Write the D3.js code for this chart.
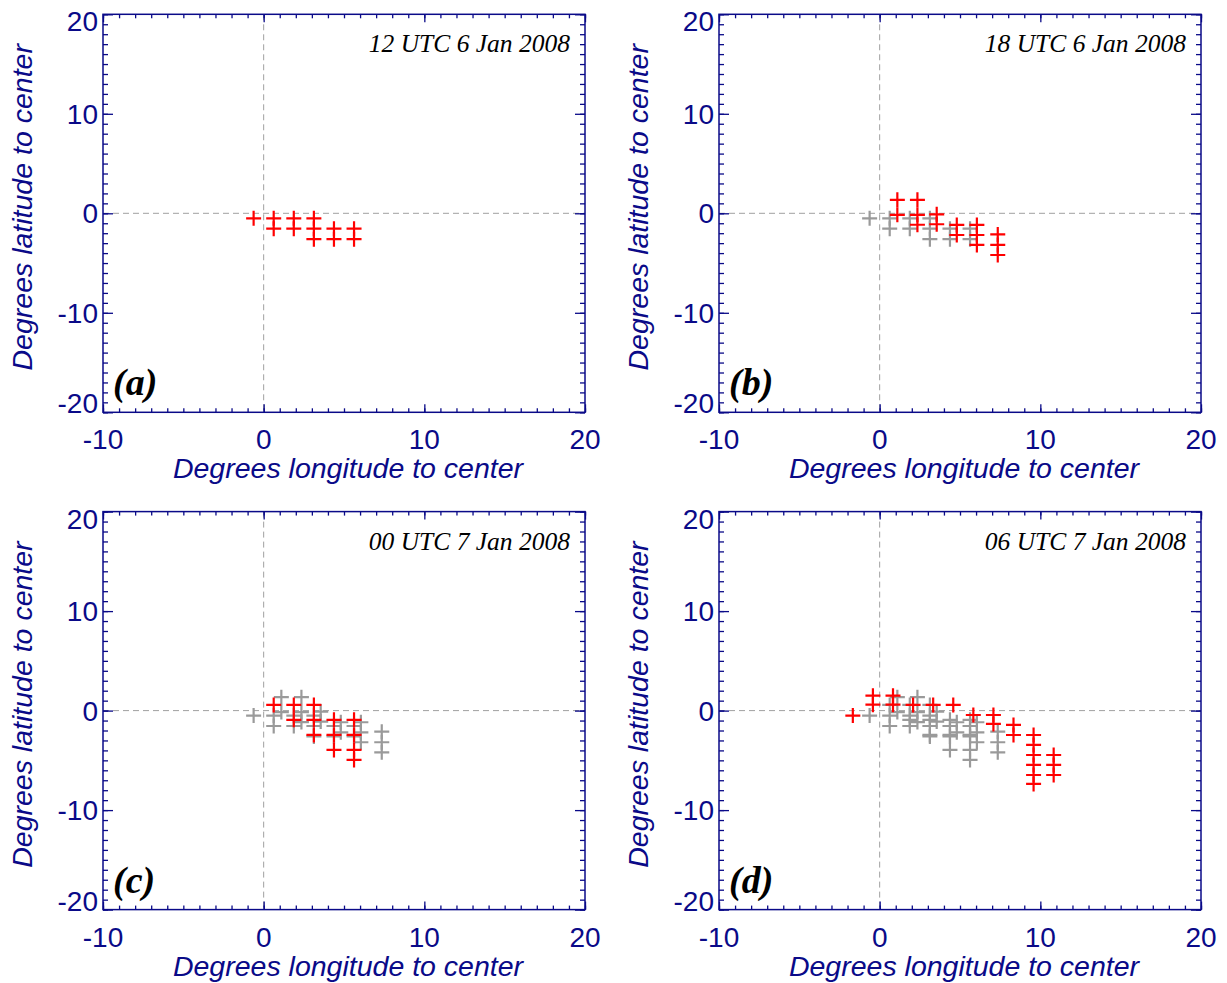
<!DOCTYPE html>
<html>
<head>
<meta charset="utf-8">
<script src="https://cdn.jsdelivr.net/npm/d3@7"></script>
<style>
  html, body { margin: 0; padding: 0; background: #fff; }
  svg { display: block; }
</style>
</head>
<body>
<svg id="chart" width="1227" height="983"></svg>
<script>
// ---------------- DATA ----------------
const panelTitles  = ["12 UTC 6 Jan 2008", "18 UTC 6 Jan 2008", "00 UTC 7 Jan 2008", "06 UTC 7 Jan 2008"];
const panelLetters = ["(a)", "(b)", "(c)", "(d)"];
const xTicks = [-10, 0, 10, 20];
const yTicks = [-20, -10, 0, 10, 20];
const xTitle = "Degrees longitude to center";
const yTitle = "Degrees latitude to center";

// points (degrees relative to center) for each time step
const lon12z = [-0.625, 0.625, 0.625, 1.875, 1.875, 3.125, 3.125, 3.125, 4.375, 4.375, 5.625, 5.625];
const lat12z = [-0.5, -0.5, -1.55, -0.5, -1.55, -0.5, -1.55, -2.6, -1.55, -2.6, -1.55, -2.6];

const lon18z = [1.1, 1.1, 2.35, 2.35, 2.35, 3.55, 3.55, 4.8, 4.8, 6.05, 6.05, 6.05, 7.35, 7.35, 7.35];
const lat18z = [1.35, -0.15, 1.35, -0.15, -1.15, -0.1, -1.1, -1.17, -2.18, -1.17, -2.18, -3.18, -2.12, -3.18, -4.19];

const lon00z = [0.625, 1.875, 1.875, 3.125, 3.125, 3.125, 4.375, 4.375, 4.375, 5.625, 5.625, 5.625, 5.625];
const lat00z = [0.57, 0.57, -0.93, 0.57, -0.93, -2.44, -0.93, -2.44, -3.95, -0.93, -2.44, -3.95, -4.96];

const lon06z = [-1.67, -0.42, -0.42, 0.83, 0.83, 2.08, 3.33, 4.58, 5.83, 7.08, 7.08, 8.33, 8.33,
                9.58, 9.58, 9.58, 9.58, 9.58, 9.58, 10.83, 10.83, 10.83];
const lat06z = [-0.5, 1.5, 0.6, 1.5, 0.6, 0.57, 0.57, 0.57, -0.44, -0.44, -1.34, -1.44, -2.45,
                -2.45, -3.45, -4.46, -5.46, -6.47, -7.37, -4.46, -5.46, -6.47];

const stepLons = [lon12z, lon18z, lon00z, lon06z];
const stepLats = [lat12z, lat18z, lat00z, lat06z];

// ---------------- STYLE ----------------
const NAVY = "#0a0a88";
const RED = "#ff0000";
const GREY = "#9a9a9a";
const SANS = "Liberation Sans, Arial, Helvetica, sans-serif";
const SERIF = "Liberation Serif, Times New Roman, serif";

const svg = d3.select("#chart");

function drawPanel(i) {
  const col = i % 2, row = Math.floor(i / 2);
  const left = 103 + col * 616, right = 585 + col * 616;
  const top = 14.3 + row * 497.3, bottom = 412.3 + row * 497.3;

  const x = d3.scaleLinear().domain([-10, 20]).range([left, right]);
  const y = d3.scaleLinear().domain([-20, 20]).range([bottom, top]);

  const g = svg.append("g");

  // zero lines (dashed)
  g.append("line").attr("x1", x(0)).attr("x2", x(0)).attr("y1", top).attr("y2", bottom)
    .attr("stroke", "#a0a0a0").attr("stroke-width", 1).attr("stroke-dasharray", "6,4");
  g.append("line").attr("x1", left).attr("x2", right).attr("y1", y(0)).attr("y2", y(0))
    .attr("stroke", "#a0a0a0").attr("stroke-width", 1).attr("stroke-dasharray", "6,4");

  // markers: previous steps grey, current step red
  const pts = [];
  for (let s = 0; s <= i; s++) {
    stepLons[s].forEach((lo, k) => pts.push({lon: lo, lat: stepLats[s][k], cur: s === i}));
  }
  pts.sort((a, b) => (a.cur === b.cur ? 0 : a.cur ? 1 : -1));
  const cross = "M-7.5,0H7.5M0,-7.5V7.5";
  g.append("g").selectAll("path").data(pts).join("path")
    .attr("d", cross)
    .attr("transform", d => `translate(${x(d.lon)},${y(d.lat)})`)
    .attr("stroke", d => d.cur ? RED : GREY)
    .attr("stroke-width", 2.2)
    .attr("fill", "none");

  // axes with inward ticks, minor every 1 unit
  const minorX = d3.range(-10, 21, 1);
  const minorY = d3.range(-20, 21, 1);
  const tickStyle = sel => sel.attr("stroke", NAVY).attr("stroke-width", 1.3);

  const bottomAxis = d3.axisBottom(x).tickValues(minorX).tickSize(-4).tickFormat("");
  const topAxis = d3.axisTop(x).tickValues(minorX).tickSize(-4).tickFormat("");
  const leftAxis = d3.axisLeft(y).tickValues(minorY).tickSize(-5).tickFormat("");
  const rightAxis = d3.axisRight(y).tickValues(minorY).tickSize(-5).tickFormat("");
  const bottomMaj = d3.axisBottom(x).tickValues(xTicks).tickSize(-8).tickFormat("");
  const topMaj = d3.axisTop(x).tickValues(xTicks).tickSize(-8).tickFormat("");
  const leftMaj = d3.axisLeft(y).tickValues(yTicks).tickSize(-10).tickFormat("");
  const rightMaj = d3.axisRight(y).tickValues(yTicks).tickSize(-10).tickFormat("");

  [[bottomAxis, `translate(0,${bottom})`], [topAxis, `translate(0,${top})`],
   [leftAxis, `translate(${left},0)`], [rightAxis, `translate(${right},0)`],
   [bottomMaj, `translate(0,${bottom})`], [topMaj, `translate(0,${top})`],
   [leftMaj, `translate(${left},0)`], [rightMaj, `translate(${right},0)`]].forEach(([ax, tr]) => {
    const a = g.append("g").attr("transform", tr).call(ax);
    a.select(".domain").remove();
    a.selectAll("line").call(tickStyle);
  });

  // box
  g.append("rect").attr("x", left).attr("y", top).attr("width", right - left).attr("height", bottom - top)
    .attr("fill", "none").attr("stroke", NAVY).attr("stroke-width", 1.5);

  // tick labels
  g.append("g").selectAll("text").data(xTicks).join("text")
    .attr("x", d => x(d)).attr("y", bottom + 37)
    .attr("text-anchor", "middle")
    .attr("font-family", SANS).attr("font-size", 28)
    .attr("fill", NAVY).text(d => d);

  g.append("g").selectAll("text").data(yTicks).join("text")
    .attr("x", left - 5)
    .attr("y", d => Math.min(Math.max(y(d), top + 7), bottom - 9))
    .attr("dy", "0.36em")
    .attr("text-anchor", "end")
    .attr("font-family", SANS).attr("font-size", 28)
    .attr("fill", NAVY).text(d => d);

  // axis titles
  g.append("text")
    .attr("x", (left + right) / 2 + 4).attr("y", bottom + 66)
    .attr("text-anchor", "middle")
    .attr("font-family", SANS).attr("font-style", "italic")
    .attr("font-size", 28.5).attr("fill", NAVY).text(xTitle);

  g.append("text")
    .attr("transform", `translate(${left - 71},${(top + bottom) / 2 - 6}) rotate(-90)`)
    .attr("text-anchor", "middle")
    .attr("font-family", SANS).attr("font-style", "italic")
    .attr("font-size", 28.5).attr("fill", NAVY).text(yTitle);

  // panel title & letter
  g.append("text")
    .attr("x", right - 15).attr("y", top + 38)
    .attr("text-anchor", "end")
    .attr("font-family", SERIF).attr("font-style", "italic")
    .attr("font-size", 25.5).attr("fill", "#000").text(panelTitles[i]);

  g.append("text")
    .attr("x", left + 10).attr("y", bottom - 17)
    .attr("font-family", SERIF).attr("font-style", "italic")
    .attr("font-weight", "bold")
    .attr("font-size", 38).attr("fill", "#000").text(panelLetters[i]);
}

for (let i = 0; i < 4; i++) drawPanel(i);
</script>
</body>
</html>
